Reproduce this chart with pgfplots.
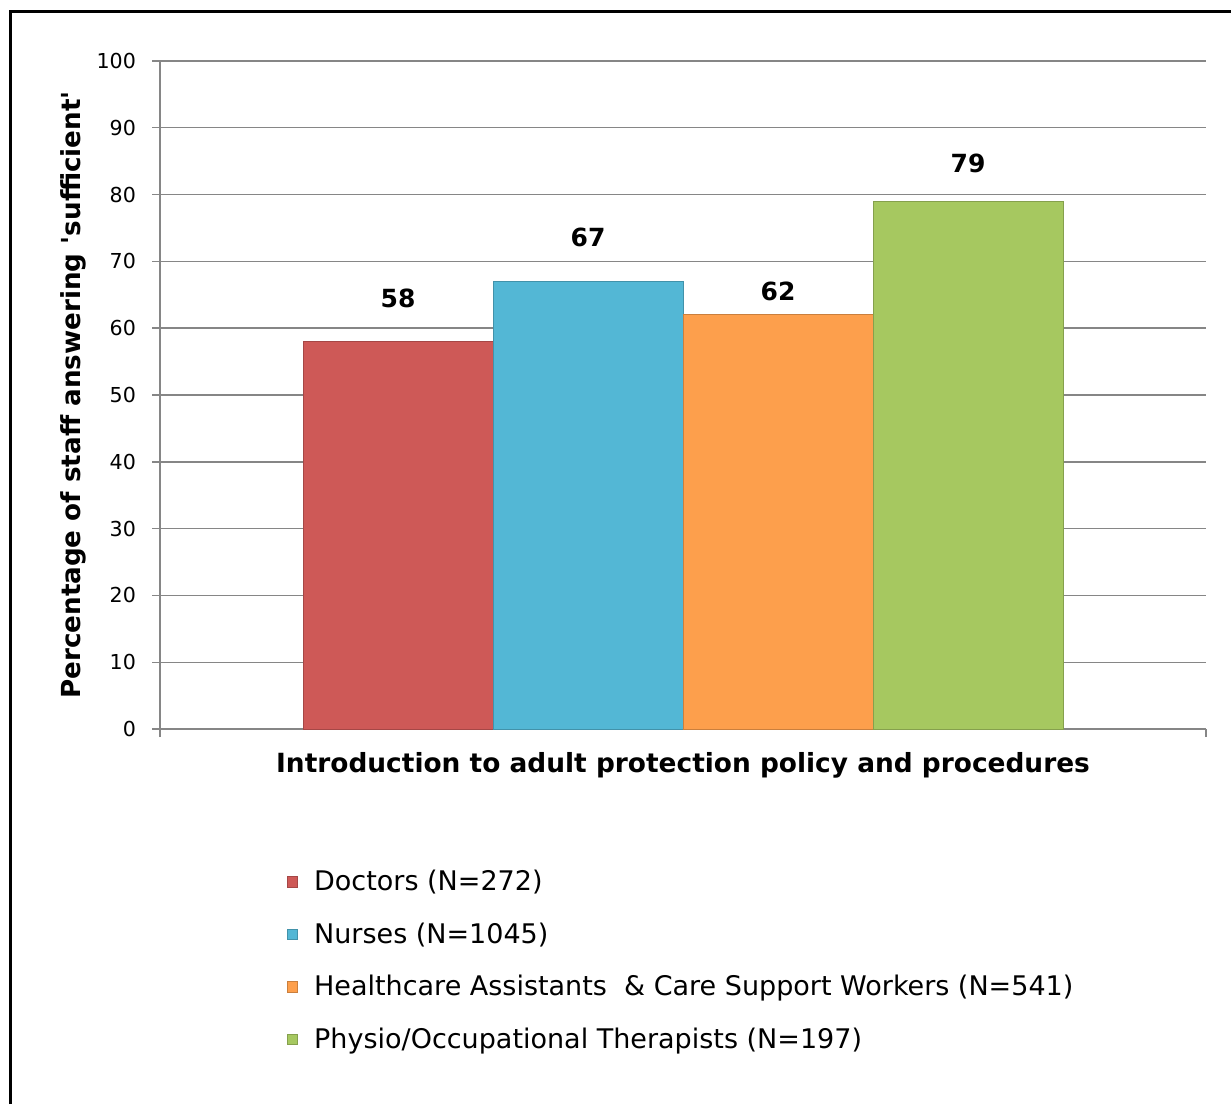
\documentclass[border=0pt]{standalone}
\usepackage{fontspec}
\setmainfont{DejaVu Sans}
\usepackage{pgfplots}
\pgfplotsset{compat=1.18}

\definecolor{cDoc}{RGB}{206,89,87}
\definecolor{cNur}{RGB}{83,183,213}
\definecolor{cHca}{RGB}{253,159,76}
\definecolor{cPhy}{RGB}{166,200,96}
\definecolor{gridgray}{RGB}{134,134,134}

\begin{document}
\begin{tikzpicture}[x=1pt,y=1pt]
\path[use as bounding box] (0,0) rectangle (615.5,552);
\draw[line width=1.5pt] (5,0) -- (5,546) -- (615.5,546);
\begin{axis}[
  at={(80pt,187.5pt)}, anchor=south west,
  scale only axis,
  width=523pt, height=334pt,
  ybar=0pt, bar width=95pt,
  xmin=-1, xmax=1,
  ymin=0, ymax=100,
  ytick={0,10,...,100},
  xtick={-1,1}, xticklabels={},
  axis lines*=left,
  axis line style={gridgray, line width=0.7pt},
  tick style={gridgray, line width=0.7pt},
  tick align=outside,
  major tick length=4pt,
  ymajorgrids,
  grid style={gridgray, line width=0.7pt},
  tick label style={font=\fontsize{10.3}{12}\selectfont},
  /pgf/number format/assume math mode=true,
  yticklabel style={xshift=-4.5pt},
  xlabel={Introduction to adult protection policy and procedures},
  xlabel style={at={(axis description cs:0.5,-0.054)}, anchor=center, font=\fontsize{13.2}{15}\selectfont\bfseries},
  ylabel={Percentage of staff answering \textquotesingle sufficient\textquotesingle},
  ylabel style={at={(axis description cs:-0.083,0.5)}, anchor=center, font=\fontsize{13.1}{15}\selectfont\bfseries},
  nodes near coords,
  nodes near coords style={font=\fontsize{12.5}{14}\selectfont\bfseries, anchor=center, black},
  legend cell align=left,
  legend style={at={(axis description cs:0.121,-0.205)}, anchor=north west, draw=none, fill=none,
    font=\fontsize{13.5}{15}\selectfont, row sep=10.5pt, inner sep=0pt,
    /tikz/every even column/.append style={column sep=2pt}},
  legend image code/.code={\fill[#1] (0pt,-2.6pt) rectangle (5.2pt,2.6pt);},
  legend style={/tikz/every odd column/.append style={column sep=6pt}},
]
\addplot[fill=cDoc, draw=cDoc!80!black, nodes near coords style={yshift=21.5pt}] coordinates {(0,58)};
\addplot[fill=cNur, draw=cNur!80!black, nodes near coords style={yshift=22pt}] coordinates {(0,67)};
\addplot[fill=cHca, draw=cHca!80!black, nodes near coords style={yshift=11.5pt}] coordinates {(0,62)};
\addplot[fill=cPhy, draw=cPhy!80!black, nodes near coords style={yshift=19pt}] coordinates {(0,79)};
\legend{Doctors (N=272), Nurses (N=1045), Healthcare Assistants\ \ \& Care Support Workers (N=541), Physio/Occupational Therapists (N=197)}
\end{axis}
\end{tikzpicture}
\end{document}
